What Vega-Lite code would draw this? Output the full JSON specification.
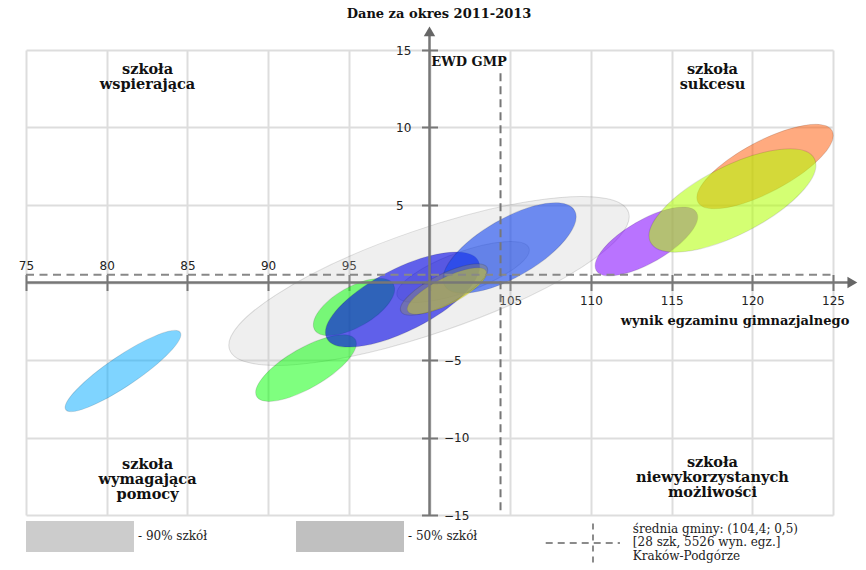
{
  "$schema": "https://vega.github.io/schema/vega-lite/v6.json",
  "width": 807,
  "height": 465,
  "autosize": "none",
  "padding": {"left": 26, "top": 50, "right": 33, "bottom": 55},
  "background": "white",
  "config": {"view": {"stroke": null}},
  "resolve": {"axis": {"x": "independent", "y": "independent"}},
  "layer": [
    {
      "data": {"values": [
        {"id": "90% szkół", "x": 99.97, "y": 0.10, "spread": 13.07, "tilt": 19},
        {"id": "50% szkół", "x": 102.08, "y": 0.68, "spread": 4.34, "tilt": 20},
        {"id": "s1", "x": 81.01, "y": -5.71, "spread": 4.28, "tilt": 34},
        {"id": "s2", "x": 92.35, "y": -5.52, "spread": 3.53, "tilt": 30},
        {"id": "s3", "x": 95.32, "y": -1.58, "spread": 2.82, "tilt": 30},
        {"id": "s4", "x": 98.33, "y": -1.10, "spread": 5.27, "tilt": 27},
        {"id": "s5", "x": 104.96, "y": 2.23, "spread": 4.65, "tilt": 30},
        {"id": "s6", "x": 101.08, "y": -0.55, "spread": 2.73, "tilt": 27},
        {"id": "s7", "x": 100.90, "y": -0.45, "spread": 3.0, "tilt": 27},
        {"id": "s8", "x": 113.44, "y": 2.65, "spread": 3.59, "tilt": 30},
        {"id": "s9", "x": 120.79, "y": 7.48, "spread": 4.71, "tilt": 28},
        {"id": "s10", "x": 118.77, "y": 5.29, "spread": 5.70, "tilt": 27}
      ]},
      "mark": {"type": "point", "filled": true, "opacity": 1, "stroke": "#000000", "strokeOpacity": 0.12, "strokeWidth": 1},
      "encoding": {
        "x": {"field": "x", "type": "quantitative", "scale": {"domain": [75, 125], "nice": false, "zero": false},
          "axis": {"orient": "top", "offset": -232.5, "values": [75, 80, 85, 90, 95, 100, 105, 110, 115, 120, 125],
            "labelExpr": "datum.value <= 95 ? datum.label : ''", "domain": false, "tickSize": 8, "tickColor": "#777777", "tickWidth": 2,
            "labelPadding": 2, "labelFont": "DejaVu Sans", "labelFontSize": 12, "labelColor": "#222222", "labelFlush": false, "labelOverlap": false,
            "grid": true, "gridColor": "#dddddd", "gridWidth": 2, "title": null}},
        "y": {"field": "y", "type": "quantitative", "scale": {"domain": [-15, 15], "nice": false, "zero": false},
          "axis": {"orient": "left", "offset": -403.5, "values": [-15, -10, -5, 0, 5, 10, 15],
            "labelExpr": "datum.value > 0 ? datum.label : ''", "domain": false, "tickSize": 8, "tickColor": "#777777", "tickWidth": 2,
            "labelPadding": 26, "labelAlign": "left", "labelBaseline": "middle", "labelFont": "DejaVu Sans", "labelFontSize": 12, "labelColor": "#222222", "labelFlush": false, "labelOverlap": false,
            "grid": true, "gridColor": "#dddddd", "gridWidth": 2, "title": null}},
        "color": {"field": "id", "type": "nominal", "legend": null, "scale": {
          "domain": ["90% szkół", "50% szkół", "s1", "s2", "s3", "s4", "s5", "s6", "s7", "s8", "s9", "s10"],
          "range": ["rgba(190,190,190,0.25)", "rgba(150,150,150,0.2)", "rgba(0,170,255,0.5)", "rgba(0,255,0,0.5)", "rgba(0,255,0,0.5)", "rgba(0,0,230,0.6)", "rgba(20,70,240,0.6)", "rgba(255,255,0,0.6)", "rgba(128,128,128,0.5)", "rgba(128,0,255,0.55)", "rgba(255,85,0,0.5)", "rgba(176,255,0,0.55)"]}},
        "shape": {"field": "id", "type": "nominal", "legend": null, "scale": {
          "domain": ["90% szkół", "50% szkół", "s1", "s2", "s3", "s4", "s5", "s6", "s7", "s8", "s9", "s10"],
          "range": [
            "M -1 0 A 1 0.246 0 1 1 1 0 A 1 0.246 0 1 1 -1 0 Z",
            "M -1 0 A 1 0.286 0 1 1 1 0 A 1 0.286 0 1 1 -1 0 Z",
            "M -1 0 A 1 0.217 0 1 1 1 0 A 1 0.217 0 1 1 -1 0 Z",
            "M -1 0 A 1 0.35 0 1 1 1 0 A 1 0.35 0 1 1 -1 0 Z",
            "M -1 0 A 1 0.44 0 1 1 1 0 A 1 0.44 0 1 1 -1 0 Z",
            "M -1 0 A 1 0.365 0 1 1 1 0 A 1 0.365 0 1 1 -1 0 Z",
            "M -1 0 A 1 0.387 0 1 1 1 0 A 1 0.387 0 1 1 -1 0 Z",
            "M -1 0 A 1 0.3 0 1 1 1 0 A 1 0.3 0 1 1 -1 0 Z",
            "M -1 0 A 1 0.31 0 1 1 1 0 A 1 0.31 0 1 1 -1 0 Z",
            "M -1 0 A 1 0.37 0 1 1 1 0 A 1 0.37 0 1 1 -1 0 Z",
            "M -1 0 A 1 0.335 0 1 1 1 0 A 1 0.335 0 1 1 -1 0 Z",
            "M -1 0 A 1 0.37 0 1 1 1 0 A 1 0.37 0 1 1 -1 0 Z"
          ]}},
        "size": {"field": "spread", "type": "quantitative", "legend": null, "scale": {"type": "pow", "exponent": 2, "domain": [0, 15], "range": [0, 234450]}},
        "angle": {"field": "tilt", "type": "quantitative", "legend": null, "scale": {"domain": [0, 90], "range": [360, 270]}}
      }
    },
    {
      "data": {"values": [{"x": 75, "x2": 126, "y": 0}]},
      "mark": {"type": "rule", "color": "#777777", "strokeWidth": 2.5},
      "encoding": {
        "x": {"field": "x", "type": "quantitative", "scale": {"domain": [75, 125], "nice": false, "zero": false},
          "axis": {"orient": "bottom", "offset": -232.5, "values": [75, 80, 85, 90, 95, 100, 105, 110, 115, 120, 125],
            "labelExpr": "datum.value >= 105 ? datum.label : ''", "domain": false, "tickSize": 8, "tickColor": "#777777", "tickWidth": 2,
            "labelPadding": 5, "labelFont": "DejaVu Sans", "labelFontSize": 12, "labelColor": "#222222", "labelFlush": false, "labelOverlap": false,
            "grid": false, "title": null}},
        "x2": {"field": "x2"},
        "y": {"field": "y", "type": "quantitative", "scale": {"domain": [-15, 15], "nice": false, "zero": false},
          "axis": {"orient": "right", "offset": -403.5, "values": [-15, -10, -5, 0, 5, 10, 15],
            "labelExpr": "datum.value < 0 ? datum.label : ''", "domain": false, "tickSize": 8, "tickColor": "#777777", "tickWidth": 2,
            "labelPadding": 6, "labelAlign": "left", "labelBaseline": "middle", "labelFont": "DejaVu Sans", "labelFontSize": 12, "labelColor": "#222222", "labelFlush": false, "labelOverlap": false,
            "grid": false, "title": null}}
      }
    },
    {
      "data": {"values": [{"x": 100, "y": -15, "y2": 16}]},
      "mark": {"type": "rule", "color": "#777777", "strokeWidth": 2.5},
      "encoding": {
        "x": {"field": "x", "type": "quantitative", "scale": {"domain": [75, 125], "nice": false, "zero": false}, "axis": null},
        "y": {"field": "y", "type": "quantitative", "scale": {"domain": [-15, 15], "nice": false, "zero": false}, "axis": null},
        "y2": {"field": "y2"}
      }
    },
    {
      "data": {"values": [{"x": 126.2, "y": 0}]},
      "mark": {"type": "point", "shape": "triangle-right", "filled": true, "opacity": 1, "color": "#666666", "size": 130},
      "encoding": {
        "x": {"field": "x", "type": "quantitative", "scale": {"domain": [75, 125], "nice": false, "zero": false}, "axis": null},
        "y": {"field": "y", "type": "quantitative", "scale": {"domain": [-15, 15], "nice": false, "zero": false}, "axis": null}
      }
    },
    {
      "data": {"values": [{"x": 100, "y": 16.2}]},
      "mark": {"type": "point", "shape": "triangle-up", "filled": true, "opacity": 1, "color": "#666666", "size": 130},
      "encoding": {
        "x": {"field": "x", "type": "quantitative", "scale": {"domain": [75, 125], "nice": false, "zero": false}, "axis": null},
        "y": {"field": "y", "type": "quantitative", "scale": {"domain": [-15, 15], "nice": false, "zero": false}, "axis": null}
      }
    },
    {
      "data": {"values": [{"x": 75, "x2": 125, "y": 0.5}]},
      "mark": {"type": "rule", "color": "#888888", "strokeWidth": 2, "strokeDash": [8, 5.5]},
      "encoding": {
        "x": {"field": "x", "type": "quantitative", "scale": {"domain": [75, 125], "nice": false, "zero": false}, "axis": null},
        "x2": {"field": "x2"},
        "y": {"field": "y", "type": "quantitative", "scale": {"domain": [-15, 15], "nice": false, "zero": false}, "axis": null}
      }
    },
    {
      "data": {"values": [{"x": 104.4, "y": 13.5, "y2": -15}]},
      "mark": {"type": "rule", "color": "#777777", "strokeWidth": 2, "strokeDash": [8, 5]},
      "encoding": {
        "x": {"field": "x", "type": "quantitative", "scale": {"domain": [75, 125], "nice": false, "zero": false}, "axis": null},
        "y": {"field": "y", "type": "quantitative", "scale": {"domain": [-15, 15], "nice": false, "zero": false}, "axis": null},
        "y2": {"field": "y2"}
      }
    },
    {
      "data": {"values": [
        {"item": "90% szkół", "x": 75, "x2": 81.69, "y": -15.39, "y2": -17.39},
        {"item": "50% szkół", "x": 91.73, "x2": 98.42, "y": -15.39, "y2": -17.39}
      ]},
      "mark": {"type": "rect"},
      "encoding": {
        "x": {"field": "x", "type": "quantitative", "scale": {"domain": [75, 125], "nice": false, "zero": false}, "axis": null},
        "x2": {"field": "x2"},
        "y": {"field": "y", "type": "quantitative", "scale": {"domain": [-15, 15], "nice": false, "zero": false}, "axis": null},
        "y2": {"field": "y2"},
        "fill": {"field": "item", "type": "nominal", "legend": null, "scale": {"domain": ["90% szkół", "50% szkół"], "range": ["#cccccc", "#c0c0c0"]}}
      }
    },
    {
      "data": {"values": [{"x": 107.2, "x2": 111.8, "y": -16.8}]},
      "mark": {"type": "rule", "color": "#666666", "strokeWidth": 1.5, "strokeDash": [7, 5]},
      "encoding": {
        "x": {"field": "x", "type": "quantitative", "scale": {"domain": [75, 125], "nice": false, "zero": false}, "axis": null},
        "x2": {"field": "x2"},
        "y": {"field": "y", "type": "quantitative", "scale": {"domain": [-15, 15], "nice": false, "zero": false}, "axis": null}
      }
    },
    {
      "data": {"values": [{"x": 110.13, "y": -15.55, "y2": -18.1}]},
      "mark": {"type": "rule", "color": "#666666", "strokeWidth": 1.5, "strokeDash": [6, 5]},
      "encoding": {
        "x": {"field": "x", "type": "quantitative", "scale": {"domain": [75, 125], "nice": false, "zero": false}, "axis": null},
        "y": {"field": "y", "type": "quantitative", "scale": {"domain": [-15, 15], "nice": false, "zero": false}, "axis": null},
        "y2": {"field": "y2"}
      }
    },
    {
      "data": {"values": [
        {"label": "Dane za okres 2011-2013", "x": 100.59, "y": 17.35},
        {"label": "EWD GMP", "x": 102.45, "y": 14.23},
        {"label": "wynik egzaminu gimnazjalnego", "x": 118.93, "y": -2.48}
      ]},
      "mark": {"type": "text", "font": "DejaVu Serif", "fontWeight": "bold", "fontSize": 13, "align": "center", "baseline": "middle", "color": "#111111"},
      "encoding": {
        "x": {"field": "x", "type": "quantitative", "scale": {"domain": [75, 125], "nice": false, "zero": false}, "axis": null},
        "y": {"field": "y", "type": "quantitative", "scale": {"domain": [-15, 15], "nice": false, "zero": false}, "axis": null},
        "text": {"field": "label"}
      }
    },
    {
      "data": {"values": [
        {"label": "szkoła\nwspierająca", "x": 82.53, "y": 13.71},
        {"label": "szkoła\nsukcesu", "x": 117.53, "y": 13.71},
        {"label": "szkoła\nwymagająca\npomocy", "x": 82.53, "y": -11.77},
        {"label": "szkoła\nniewykorzystanych\nmożliwości", "x": 117.53, "y": -11.65}
      ]},
      "mark": {"type": "text", "font": "DejaVu Serif", "fontWeight": "bold", "fontSize": 14.5, "lineBreak": "\n", "lineHeight": 15, "align": "center", "baseline": "middle", "color": "#111111"},
      "encoding": {
        "x": {"field": "x", "type": "quantitative", "scale": {"domain": [75, 125], "nice": false, "zero": false}, "axis": null},
        "y": {"field": "y", "type": "quantitative", "scale": {"domain": [-15, 15], "nice": false, "zero": false}, "axis": null},
        "text": {"field": "label"}
      }
    },
    {
      "data": {"values": [
        {"label": "- 90% szkół", "x": 81.94, "y": -16.35},
        {"label": "- 50% szkół", "x": 98.67, "y": -16.35}
      ]},
      "mark": {"type": "text", "font": "DejaVu Serif", "fontSize": 12, "align": "left", "baseline": "middle", "color": "#222222"},
      "encoding": {
        "x": {"field": "x", "type": "quantitative", "scale": {"domain": [75, 125], "nice": false, "zero": false}, "axis": null},
        "y": {"field": "y", "type": "quantitative", "scale": {"domain": [-15, 15], "nice": false, "zero": false}, "axis": null},
        "text": {"field": "label"}
      }
    },
    {
      "data": {"values": [
        {"label": "średnia gminy: (104,4; 0,5)\n[28 szk, 5526 wyn. egz.]\nKraków-Podgórze", "x": 112.6, "y": -15.88}
      ]},
      "mark": {"type": "text", "font": "DejaVu Serif", "fontSize": 12, "lineBreak": "\n", "lineHeight": 13.5, "align": "left", "baseline": "middle", "color": "#222222"},
      "encoding": {
        "x": {"field": "x", "type": "quantitative", "scale": {"domain": [75, 125], "nice": false, "zero": false}, "axis": null},
        "y": {"field": "y", "type": "quantitative", "scale": {"domain": [-15, 15], "nice": false, "zero": false}, "axis": null},
        "text": {"field": "label"}
      }
    }
  ]
}
